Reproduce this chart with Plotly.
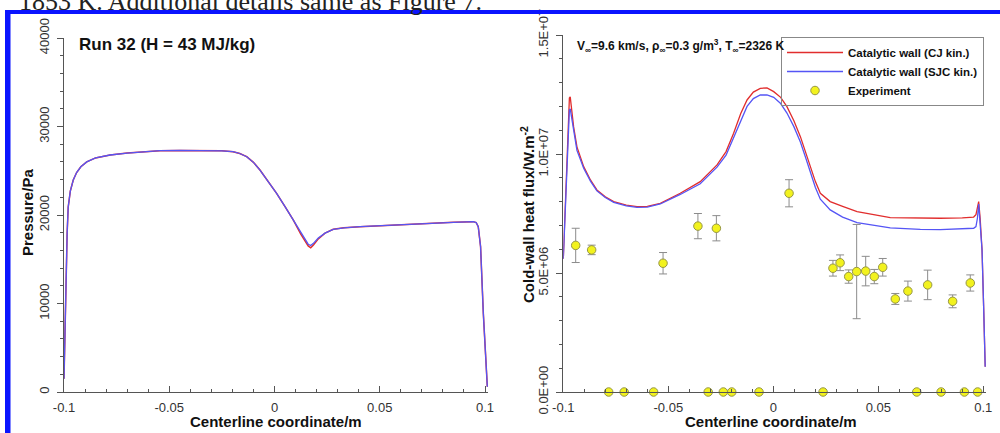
import plotly.graph_objects as go

# ---------------- data ----------------
# Left panel: pressure along centerline (Pa)
x_p = [-0.1, -0.0995, -0.099, -0.0985, -0.098, -0.097, -0.0956, -0.094, -0.092, -0.0892,
       -0.085, -0.0781, -0.07, -0.06, -0.0544, -0.045, -0.035, -0.025, -0.0197, -0.0165,
       -0.0132, -0.01, -0.0069, -0.003, 0.001, 0.005, 0.0089, 0.0125, 0.0145, 0.016,
       0.0172, 0.0185, 0.0208, 0.024, 0.0279, 0.033, 0.0406, 0.05, 0.06, 0.0723,
       0.085, 0.0944, 0.0958, 0.0968, 0.0979, 0.0992, 0.1005, 0.1011]
p_cj = [1500, 7500, 13500, 18000, 20900, 22700, 23950, 24800, 25450, 26000,
        26450, 26780, 27000, 27200, 27270, 27300, 27300, 27250, 27150, 26950,
        26590, 25950, 25080, 23850, 22450, 20950, 19440, 17850, 17050, 16500,
        16300, 16600, 17300, 17950, 18380, 18550, 18680, 18800, 18930, 19060,
        19170, 19250, 19150, 18680, 16420, 8900, 2500, 600]
p_sjc = [1500, 7500, 13500, 18000, 20900, 22700, 23950, 24800, 25450, 26000,
         26450, 26780, 27000, 27200, 27270, 27300, 27300, 27250, 27150, 26950,
         26590, 25950, 25080, 23850, 22450, 20950, 19440, 17900, 17175, 16700,
         16550, 16800, 17400, 17950, 18380, 18550, 18680, 18800, 18930, 19060,
         19170, 19250, 19150, 18680, 16420, 8900, 2500, 600]

# Right panel: cold-wall heat flux (W/m^2)
x_q = [-0.1, -0.099, -0.098, -0.0975, -0.0971, -0.0967, -0.0962, -0.0951, -0.0935, -0.0903,
       -0.087, -0.084, -0.08, -0.076, -0.07, -0.0649, -0.06, -0.0538, -0.0443, -0.0348,
       -0.0268, -0.0225, -0.0189, -0.0155, -0.0125, -0.0095, -0.0062, -0.003, 0.0002, 0.0035,
       0.0065, 0.0098, 0.0129, 0.0155, 0.0176, 0.02, 0.0224, 0.0271, 0.033, 0.0399,
       0.0557, 0.07, 0.0795, 0.09, 0.0954, 0.0965, 0.0972, 0.0978, 0.0985, 0.0994,
       0.1002, 0.1009]
q_cj = [5.6e6, 8.0e6, 10.5e6, 11.8e6, 12.35e6, 12.4e6, 12.0e6, 11.15e6, 10.3e6, 9.47e6,
        8.9e6, 8.49e6, 8.2e6, 8.0e6, 7.85e6, 7.79e6, 7.8e6, 7.93e6, 8.35e6, 8.84e6,
        9.54e6, 10.1e6, 10.87e6, 11.7e6, 12.27e6, 12.6e6, 12.76e6, 12.78e6, 12.62e6, 12.38e6,
        11.99e6, 11.4e6, 10.73e6, 10.05e6, 9.47e6, 8.85e6, 8.35e6, 8.0e6, 7.8e6, 7.58e6,
        7.33e6, 7.3e6, 7.3e6, 7.32e6, 7.35e6, 7.45e6, 7.7e6, 8.0e6, 7.3e6, 5.97e6,
        3.45e6, 1.06e6]
q_sjc = [5.6e6, 7.8e6, 10.0e6, 11.3e6, 11.85e6, 11.9e6, 11.6e6, 10.95e6, 10.15e6, 9.4e6,
         8.85e6, 8.45e6, 8.17e6, 7.97e6, 7.82e6, 7.76e6, 7.77e6, 7.9e6, 8.3e6, 8.75e6,
         9.45e6, 9.95e6, 10.7e6, 11.45e6, 12.0e6, 12.33e6, 12.48e6, 12.48e6, 12.38e6, 12.12e6,
         11.72e6, 11.15e6, 10.5e6, 9.82e6, 9.25e6, 8.6e6, 8.1e6, 7.65e6, 7.35e6, 7.12e6,
         6.9e6, 6.83e6, 6.82e6, 6.84e6, 6.88e6, 6.95e6, 7.3e6, 7.9e6, 7.2e6, 5.97e6,
         3.45e6, 1.06e6]

# Experiment (measured heat flux with uncertainty)
exp_x = [-0.0941, -0.0865, -0.0525, -0.0359, -0.0271, 0.0075, 0.0284, 0.0318, 0.0359,
         0.0397, 0.0440, 0.0481, 0.0521, 0.0581, 0.0641, 0.0735, 0.0854, 0.0938,
         -0.0784, -0.0710, -0.0570, -0.0310, -0.0238, -0.0198, -0.0068, 0.0237,
         0.0683, 0.0799, 0.0910, 0.0973]
exp_q = [6.16e6, 5.97e6, 5.41e6, 6.97e6, 6.88e6, 8.35e6, 5.20e6, 5.43e6, 4.85e6,
         5.06e6, 5.08e6, 4.85e6, 5.24e6, 3.91e6, 4.24e6, 4.50e6, 3.81e6, 4.58e6,
         0, 0, 0, 0, 0, 0, 0, 0, 0, 0, 0, 0]
exp_err = [0.72e6, 0.2e6, 0.45e6, 0.53e6, 0.53e6, 0.57e6, 0.33e6, 0.33e6, 0.28e6,
           1.98e6, 0.62e6, 0.3e6, 0.37e6, 0.23e6, 0.42e6, 0.62e6, 0.27e6, 0.34e6,
           0, 0, 0, 0, 0, 0, 0, 0, 0, 0, 0, 0]

x_tickvals = [-0.1, -0.05, 0, 0.05, 0.1]
x_ticktext = ["-0.1", "-0.05", "0", "0.05", "0.1"]
p_tickvals = [0, 10000, 20000, 30000, 40000]
p_ticktext = ["0", "10000", "20000", "30000", "40000"]
q_tickvals = [0, 5e6, 1e7, 1.5e7]
q_ticktext = ["0.0E+00", "5.0E+06", "1.0E+07", "1.5E+07"]

# ---------------- styling ----------------
RED = "rgb(225,45,45)"
BLUE = "rgb(85,85,245)"
AXC = "#555555"
TICKFONT = dict(family="Liberation Sans Narrow, Liberation Sans, Arial", size=13, color="#333333")
BOLD = "Liberation Sans, Arial"

W, H = 1000, 433


def px(x):
    return x / W


def py(y):
    return 1 - y / H


fig = go.Figure()

# left panel traces
fig.add_trace(go.Scatter(x=x_p, y=p_cj, mode="lines", line=dict(color=RED, width=1.5),
                         showlegend=False, xaxis="x", yaxis="y"))
fig.add_trace(go.Scatter(x=x_p, y=p_sjc, mode="lines", line=dict(color=BLUE, width=1.3),
                         showlegend=False, xaxis="x", yaxis="y"))

# right panel traces
fig.add_trace(go.Scatter(x=x_q, y=q_cj, mode="lines", line=dict(color=RED, width=1.3),
                         name="Catalytic wall (CJ kin.)", xaxis="x2", yaxis="y2"))
fig.add_trace(go.Scatter(x=x_q, y=q_sjc, mode="lines", line=dict(color=BLUE, width=1.3),
                         name="Catalytic wall (SJC kin.)", xaxis="x2", yaxis="y2"))
fig.add_trace(go.Scatter(x=exp_x, y=exp_q, mode="markers", name="Experiment",
                         marker=dict(color="rgb(242,242,30)", size=8.5,
                                     line=dict(color="rgb(150,150,70)", width=1)),
                         error_y=dict(type="data", array=exp_err, visible=True,
                                      color="rgb(140,140,140)", thickness=1, width=4),
                         cliponaxis=False, xaxis="x2", yaxis="y2"))

xcommon = dict(range=[-0.1, 0.1015], tickvals=x_tickvals, ticktext=x_ticktext,
               showline=True, linecolor=AXC, linewidth=1, showgrid=False, zeroline=False,
               ticks="inside", ticklen=6, tickcolor=AXC, tickfont=TICKFONT,
               ticklabelstandoff=3,
               minor=dict(tickvals=[round(-0.1 + 0.01 * i, 3) for i in range(21)],
                          ticks="inside", ticklen=3, tickcolor=AXC))

fig.update_layout(
    width=W, height=H,
    margin=dict(l=0, r=0, t=0, b=0, autoexpand=False),
    paper_bgcolor="white", plot_bgcolor="white",
    xaxis=dict(domain=[px(64), px(64 + 421 * 1.0075)], anchor="y", **xcommon),
    xaxis2=dict(domain=[px(563.3), px(563.3 + 420 * 1.0075)], anchor="y2", **xcommon),
    yaxis=dict(domain=[py(392), py(38)], anchor="x", range=[0, 40000],
               tickvals=p_tickvals, ticktext=p_ticktext, tickangle=-90,
               showline=True, linecolor=AXC, linewidth=1, showgrid=False, zeroline=False,
               ticks="outside", ticklen=6, tickcolor=AXC, tickfont=TICKFONT,
               ticklabelstandoff=3,
               minor=dict(dtick=2000, tick0=0, ticks="outside", ticklen=3, tickcolor=AXC)),
    yaxis2=dict(domain=[py(392), py(35)], anchor="x2", range=[0, 1.5e7],
                tickvals=q_tickvals, ticktext=q_ticktext, tickangle=-90,
                showline=True, linecolor=AXC, linewidth=1, showgrid=False, zeroline=False,
                ticks="outside", ticklen=6, tickcolor=AXC, tickfont=TICKFONT,
                ticklabelstandoff=3,
                minor=dict(dtick=1e6, tick0=0, ticks="outside", ticklen=3, tickcolor=AXC)),
    legend=dict(x=px(781), y=py(37), xanchor="left", yanchor="top",
                bgcolor="rgba(255,255,255,0)", bordercolor="#888888", borderwidth=1,
                font=dict(family=BOLD, size=11.5, color="#111111", weight="bold"),
                itemwidth=56, tracegroupgap=0),
    font=dict(family=BOLD),
)

annos = [
    dict(text="<b>Pressure/Pa</b>", x=px(27), y=py(213), textangle=-90, size=15),
    dict(text="<b>Cold-wall heat flux/W.m<sup>-2</sup></b>", x=px(527), y=py(215),
         textangle=-90, size=15),
    dict(text="<b>Centerline coordinate/m</b>", x=px(276), y=py(421), textangle=0, size=15),
    dict(text="<b>Centerline coordinate/m</b>", x=px(771), y=py(421), textangle=0, size=15),
]
for a in annos:
    fig.add_annotation(text=a["text"], x=a["x"], y=a["y"], xref="paper", yref="paper",
                       xanchor="center", yanchor="middle", textangle=a["textangle"],
                       showarrow=False, font=dict(family=BOLD, size=a["size"], color="#111111"))

fig.add_annotation(text="<b>Run 32 (H = 43 MJ/kg)</b>", x=px(77), y=py(45),
                   xref="paper", yref="paper", xanchor="left", yanchor="middle",
                   showarrow=False, font=dict(family=BOLD, size=17, color="#111111"))
fig.add_annotation(text="<b>V<sub>∞</sub>=9.6 km/s, ρ<sub>∞</sub>=0.3 g/m<sup>3</sup>, "
                        "T<sub>∞</sub>=2326 K</b>",
                   x=px(575), y=py(46), xref="paper", yref="paper",
                   xanchor="left", yanchor="middle", showarrow=False,
                   font=dict(family=BOLD, size=12, color="#111111"))

# document caption cut off at the top of the screenshot
fig.add_annotation(text="1853 K. Additional details same as Figure 7.", x=px(17), y=py(18),
                   xref="paper", yref="paper", xanchor="left", yanchor="bottom",
                   showarrow=False,
                   font=dict(family="Liberation Serif, DejaVu Serif", size=26, color="#222222"))

# blue frame of the screenshot
fig.add_shape(type="rect", xref="paper", yref="paper", x0=px(5), x1=px(1000),
              y0=py(14), y1=py(10), fillcolor="rgb(10,20,255)", line=dict(width=0),
              layer="above")
fig.add_shape(type="rect", xref="paper", yref="paper", x0=px(5), x1=px(10.5),
              y0=py(433), y1=py(10), fillcolor="rgb(10,20,255)", line=dict(width=0),
              layer="above")

fig.write_html("out.html")
